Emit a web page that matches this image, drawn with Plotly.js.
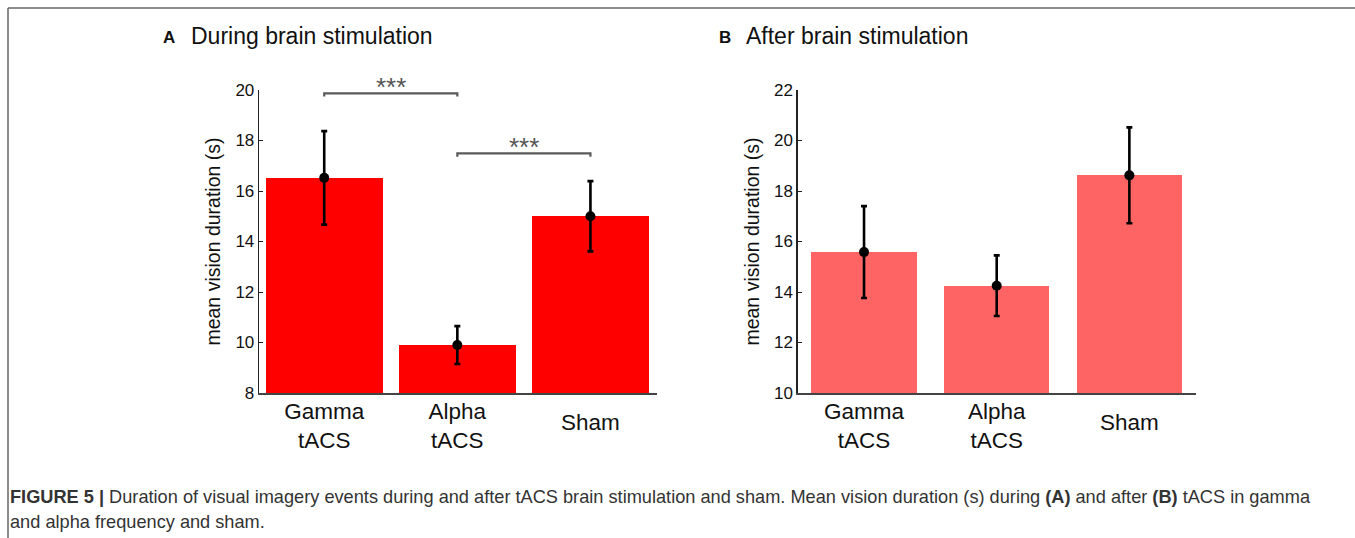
<!DOCTYPE html>
<html>
<head>
<meta charset="utf-8">
<script src="https://cdn.plot.ly/plotly-3.0.1.min.js"></script>
<style>
  html, body { margin: 0; padding: 0; background: #ffffff; }
  #chart { width: 1355px; height: 538px; }
</style>
</head>
<body>
<div id="chart"></div>
<script>
// ---- data ----
var categories = ["Gamma<br>tACS", "Alpha<br>tACS", "Sham"];

// Panel A: during brain stimulation
var duringMean = [16.52, 9.9, 15.0];
var duringSem  = [1.85, 0.75, 1.39];

// Panel B: after brain stimulation
var afterMean = [15.58, 14.25, 18.62];
var afterSem  = [1.82, 1.2, 1.9];

// significance brackets for panel A (category index pairs)
var sigFrom  = [0, 1];
var sigTo    = [1, 2];
var sigLevel = [19.87, 17.49];
var sigLabel = ["***", "***"];

var panelLetters = ["A", "B"];
var panelTitles  = ["During brain stimulation", "After brain stimulation"];
var yTitle = "mean vision duration (s)";
var yTicksA = [8, 10, 12, 14, 16, 18, 20];
var yTicksB = [10, 12, 14, 16, 18, 20, 22];
var captionLine1 = "<b>FIGURE 5 |</b> Duration of visual imagery events during and after tACS brain stimulation and sham. Mean vision duration (s) during <b>(A)</b> and after <b>(B)</b> tACS in gamma";
var captionLine2 = "and alpha frequency and sham.";

// ---- geometry helpers (pixel -> paper) ----
var W = 1355, H = 538;
function px(x) { return x / W; }
function py(y) { return (H - y) / H; }

var FONT = "Liberation Sans, Arial, sans-serif";
var idx = categories.map(function (c, i) { return i; });

// two-line labels on main axes, single-line label on overlay axes
var mainTickText = categories.map(function (c) { return c.indexOf("<br>") >= 0 ? c : ""; });
var singleIdx = idx.filter(function (i) { return categories[i].indexOf("<br>") < 0; });
var singleText = singleIdx.map(function (i) { return categories[i]; });

var traces = [];

function addPanel(means, sems, color, barWidth, xa, ya, xOverlay) {
  traces.push({
    type: "bar", x: idx, y: means, xaxis: xa, yaxis: ya,
    width: barWidth, marker: { color: color, line: { width: 0 } },
    hoverinfo: "y", showlegend: false
  });
  traces.push({
    type: "scatter", mode: "markers", x: idx, y: means, xaxis: xa, yaxis: ya,
    marker: { color: "#000000", size: 10, symbol: "circle" },
    error_y: { type: "data", array: sems, visible: true, color: "#000000", thickness: 2.6, width: 3 },
    hoverinfo: "y", showlegend: false
  });
  traces.push({
    type: "scatter", mode: "markers", x: [], y: [], xaxis: xOverlay, yaxis: ya,
    hoverinfo: "skip", showlegend: false
  });
}

addPanel(duringMean, duringSem, "#ff0000", 0.88, "x", "y", "x3");
addPanel(afterMean, afterSem, "#ff6464", 0.795, "x2", "y2", "x4");

// significance brackets (panel A)
var annotations = [];
for (var k = 0; k < sigFrom.length; k++) {
  var drop = 0.13;
  traces.push({
    type: "scatter", mode: "lines", xaxis: "x", yaxis: "y",
    x: [sigFrom[k], sigFrom[k], sigTo[k], sigTo[k]],
    y: [sigLevel[k] - drop, sigLevel[k], sigLevel[k], sigLevel[k] - drop],
    line: { color: "#5a5a5a", width: 2.2 },
    hoverinfo: "skip", showlegend: false
  });
  annotations.push({
    xref: "x", yref: "y", x: (sigFrom[k] + sigTo[k]) / 2, y: sigLevel[k],
    text: sigLabel[k], showarrow: false, yanchor: "middle", yshift: 6,
    font: { family: FONT, size: 26, color: "#555555" }
  });
}

// panel titles
var letterX = [161, 717];
var titleX  = [189, 744];
for (var p = 0; p < 2; p++) {
  annotations.push({
    xref: "paper", yref: "paper", x: px(letterX[p]), y: py(37), xanchor: "left", yanchor: "middle",
    text: "<b>" + panelLetters[p] + "</b>", showarrow: false,
    font: { family: FONT, size: 17, color: "#111111" }
  });
  annotations.push({
    xref: "paper", yref: "paper", x: px(titleX[p]), y: py(36), xanchor: "left", yanchor: "middle",
    text: panelTitles[p], showarrow: false,
    font: { family: FONT, size: 23, color: "#111111" }
  });
}

// caption
annotations.push({
  xref: "paper", yref: "paper", x: px(8), y: py(497), xanchor: "left", yanchor: "middle",
  text: captionLine1, showarrow: false, align: "left",
  font: { family: FONT, size: 18.2, color: "#333333" }
});
annotations.push({
  xref: "paper", yref: "paper", x: px(8), y: py(522), xanchor: "left", yanchor: "middle",
  text: captionLine2, showarrow: false, align: "left",
  font: { family: FONT, size: 18.2, color: "#333333" }
});

var yDomain = [py(393), py(90)];

function xAxis(domain, range) {
  return {
    domain: domain, range: range, type: "linear",
    tickvals: idx, ticktext: mainTickText,
    ticks: "inside", ticklen: 4, tickcolor: "#333333", tickwidth: 1,
    showline: true, linecolor: "#444444", linewidth: 1.5,
    showgrid: false, zeroline: false, fixedrange: true,
    tickfont: { family: FONT, size: 22.5, color: "#111111" },
    ticklabelstandoff: -3,
    anchor: "y", layer: "below traces"
  };
}
function xOverlayAxis(base, range, anchor) {
  return {
    overlaying: base, anchor: anchor, range: range, type: "linear",
    tickvals: singleIdx, ticktext: singleText,
    ticks: "", showline: false, showgrid: false, zeroline: false, fixedrange: true,
    tickfont: { family: FONT, size: 22.5, color: "#111111" },
    ticklabelstandoff: 13
  };
}
function yAxis(range, tickvals, anchor) {
  return {
    domain: yDomain, range: range, tickvals: tickvals, anchor: anchor,
    ticks: "inside", ticklen: 4, tickcolor: "#222222", tickwidth: 1,
    showline: true, linecolor: "#222222", linewidth: 1.3,
    showgrid: false, zeroline: false, fixedrange: true,
    tickfont: { family: FONT, size: 17, color: "#111111" },
    title: { text: yTitle, standoff: 9, font: { family: FONT, size: 19.5, color: "#111111" } }
  };
}

var xa1 = xAxis([px(259), px(657)], [-0.49, 2.5]);
var xa2 = xAxis([px(797.7), px(1195.7)], [-0.5, 2.5]);
xa2.anchor = "y2";

var layout = {
  width: W, height: H,
  margin: { l: 0, r: 0, t: 0, b: 0, pad: 0 },
  paper_bgcolor: "#ffffff", plot_bgcolor: "rgba(0,0,0,0)",
  showlegend: false, bargap: 0,
  font: { family: FONT },
  xaxis: xa1,
  xaxis2: xa2,
  xaxis3: xOverlayAxis("x", [-0.49, 2.5], "y"),
  xaxis4: xOverlayAxis("x2", [-0.5, 2.5], "y2"),
  yaxis: yAxis([8, 20], yTicksA, "x"),
  yaxis2: yAxis([10, 22], yTicksB, "x2"),
  annotations: annotations,
  shapes: [
    { type: "line", xref: "paper", yref: "paper", x0: px(8), x1: 1, y0: py(8), y1: py(8),
      line: { color: "#666666", width: 1.5 } },
    { type: "line", xref: "paper", yref: "paper", x0: px(8), x1: px(8), y0: py(8), y1: 0,
      line: { color: "#666666", width: 1.5 } }
  ]
};

Plotly.newPlot("chart", traces, layout, { displayModeBar: false, staticPlot: true });
</script>
</body>
</html>
